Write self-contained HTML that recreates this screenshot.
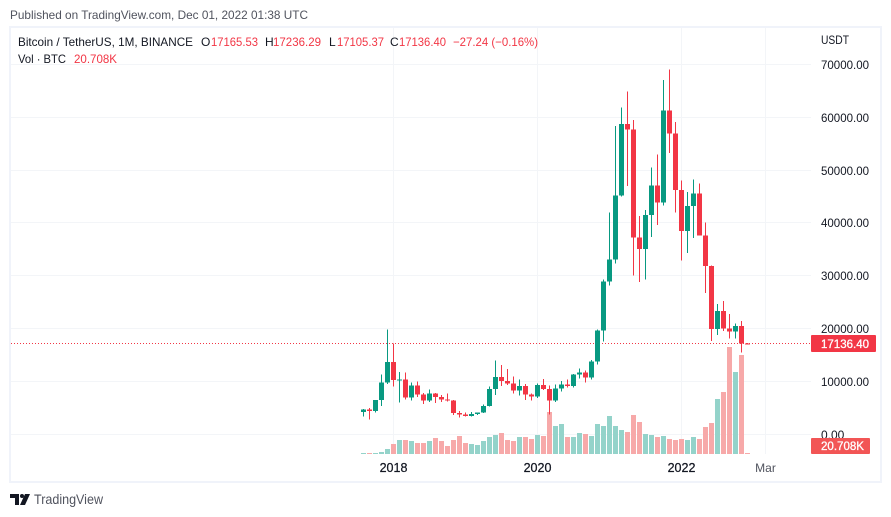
<!DOCTYPE html>
<html lang="en">
<head>
<meta charset="utf-8">
<title>Bitcoin / TetherUS chart</title>
<style>
html,body{margin:0;padding:0;background:#fff;width:891px;height:517px;overflow:hidden}
svg{display:block}
text{font-family:"Liberation Sans",sans-serif;font-size:12px;fill:#131722}
.red{fill:#f23645}
.muted{fill:#50535e}
</style>
</head>
<body>
<svg id="chart" xmlns="http://www.w3.org/2000/svg" width="891" height="517" viewBox="0 0 891 517">
  <text class="muted" x="10" y="19" textLength="298" lengthAdjust="spacingAndGlyphs">Published on TradingView.com, Dec 01, 2022 01:38 UTC</text>
  <rect x="10" y="27" width="871" height="455" fill="#fff" stroke="#f0f3fa" stroke-width="2"/>
  <g id="grid"></g>
  <g id="volumes"></g>
  <line id="lastLine" x1="11" x2="811" stroke="#f23645" stroke-width="1" stroke-dasharray="1 2"/>
  <g id="candles"></g>
  <g id="yAxis"></g>
  <g id="xAxis"></g>

  <g>
    <text x="18" y="46" textLength="175" lengthAdjust="spacingAndGlyphs">Bitcoin / TetherUS, 1M, BINANCE</text>
    <text x="201" y="46">O</text>
    <text class="red" x="211" y="46" textLength="47" lengthAdjust="spacingAndGlyphs">17165.53</text>
    <text x="265" y="46">H</text>
    <text class="red" x="273" y="46" textLength="48" lengthAdjust="spacingAndGlyphs">17236.29</text>
    <text x="329" y="46">L</text>
    <text class="red" x="337" y="46" textLength="47" lengthAdjust="spacingAndGlyphs">17105.37</text>
    <text x="390" y="46">C</text>
    <text class="red" x="399" y="46" textLength="47" lengthAdjust="spacingAndGlyphs">17136.40</text>
    <text class="red" x="453" y="46" textLength="85" lengthAdjust="spacingAndGlyphs">−27.24 (−0.16%)</text>
  </g>
  <g>
    <text x="18" y="63" textLength="48" lengthAdjust="spacingAndGlyphs">Vol · BTC</text>
    <text class="red" x="74" y="63" textLength="43" lengthAdjust="spacingAndGlyphs">20.708K</text>
  </g>
  <text x="821" y="44" textLength="28" lengthAdjust="spacingAndGlyphs">USDT</text>

  <rect x="811" y="335" width="65" height="17" rx="1" fill="#f23645"/>
  <text id="lastTag" x="821" y="348" textLength="48" lengthAdjust="spacingAndGlyphs" style="fill:#fff;stroke:#fff;stroke-width:0.3"></text>
  <rect x="811" y="438" width="59" height="16" rx="1" fill="#f25555"/>
  <text x="821" y="450" textLength="43" lengthAdjust="spacingAndGlyphs" style="fill:#fff;stroke:#fff;stroke-width:0.3">20.708K</text>

  <g>
    <path d="M10 494h9v11h-4v-7h-5zM25 494h5l-5 11h-5z" fill="#131722"/>
    <circle cx="22" cy="496" r="2" fill="#131722"/>
    <text class="muted" x="34" y="504" textLength="69" lengthAdjust="spacingAndGlyphs" style="font-size:14px">TradingView</text>
  </g>
</svg>

<script>
const categories = ["2017-08","2017-09","2017-10","2017-11","2017-12","2018-01","2018-02","2018-03","2018-04","2018-05","2018-06","2018-07","2018-08","2018-09","2018-10","2018-11","2018-12","2019-01","2019-02","2019-03","2019-04","2019-05","2019-06","2019-07","2019-08","2019-09","2019-10","2019-11","2019-12","2020-01","2020-02","2020-03","2020-04","2020-05","2020-06","2020-07","2020-08","2020-09","2020-10","2020-11","2020-12","2021-01","2021-02","2021-03","2021-04","2021-05","2021-06","2021-07","2021-08","2021-09","2021-10","2021-11","2021-12","2022-01","2022-02","2022-03","2022-04","2022-05","2022-06","2022-07","2022-08","2022-09","2022-10","2022-11","2022-12"];
const opens = [4261,4689,4378,6463,9838,13716,10285,10326,6923,9246,7485,6391,7727,7011,6626,6371,4017,3742,3457,3854,4105,5320,8555,10854,10080,9588,8289,9140,7541,7195,9352,8523,6410,8620,9448,9138,11335,11649,10776,13791,19608,28923,33092,45135,58740,57694,37253,35045,41461,47100,43824,61299,56950,46216,38466,43160,45510,37630,31801,19942,23293,20050,19431,20495,17165.53];
const highs = [4745,4939,6470,11300,19798,17176,11786,11710,9759,10020,7786,8491,7769,7410,7680,6500,4400,4140,4200,4121,5600,9074,13970,13147,12325,10905,10370,9530,7750,9578,10500,9188,9460,10067,10380,11444,12468,12050,14100,19863,29300,41950,58352,61844,64854,59500,41330,42448,50500,52920,67000,69000,59053,47990,45821,48190,47444,40023,31982,24668,25211,22799,20988,21480,17236.29];
const lows = [3400,2817,4110,5325,9500,9035,6000,6600,6430,7040,5750,6070,5880,6100,6200,3652,3156,3349,3370,3670,4050,5300,7440,9100,9320,7710,7300,6515,6435,6850,8410,3782,6150,8117,8833,8893,10518,9825,10374,13195,17572,28130,32296,44950,46930,30000,28805,29278,37332,39600,43283,53256,42000,32917,34322,37155,37578,26700,17622,18781,19520,18125,18130,15476,17105.37];
const closes = [4724,4378,6463,9838,13716,10285,10326,6923,9246,7485,6391,7727,7011,6626,6371,4017,3742,3457,3854,4105,5320,8555,10854,10080,9588,8289,9140,7541,7195,9352,8523,6410,8620,9448,9138,11335,11649,10776,13791,19608,28923,33092,45135,58740,57694,37253,35045,41461,47100,43824,61299,56950,46216,38466,43160,45510,37630,31801,19942,23293,20050,19431,20495,17165,17136.40];
const volumesK = [20,20,20,40,100,200,280,280,260,220,220,260,320,260,160,280,360,220,200,180,260,340,380,420,280,260,340,340,300,380,360,840,560,600,340,340,420,400,360,600,560,760,560,480,440,780,640,400,380,340,360,300,280,300,280,340,300,540,620,1100,1240,2140,1640,1980,20.708];
const priceTicks = [70000,60000,50000,40000,30000,20000,10000,0];
const timeTicks = ["2018-01","2020-01","2022-01","2023-03"];
const timeTickLabels = ["2018","2020","2022","Mar"];
const lastPrice = 17136.40;

const NS = "http://www.w3.org/2000/svg";
function xScale(i){ return 363.5 + 6 * i; }
function timeIndex(key){
  const p = key.split("-");
  return (Number(p[0]) - 2017) * 12 + Number(p[1]) - 8;
}
function yPrice(v){ return 434.3 - v * 370 / 70000; }
function yVolume(v){ return 454 - v * 0.05; }
function add(parent, tag, attrs){
  const el = document.createElementNS(NS, tag);
  for (const k in attrs) el.setAttribute(k, attrs[k]);
  parent.appendChild(el);
  return el;
}

const grid = document.getElementById("grid");
priceTicks.forEach(function(t){
  const el = add(grid, "rect", {x: 11, y: Math.floor(yPrice(t)), width: 800, height: 1, fill: "#f3f5f8"});
  
  
});
timeTicks.forEach(function(t){
  const el = add(grid, "rect", {x: Math.floor(xScale(timeIndex(t))), y: 28, width: 1, height: 426, fill: "#f3f5f8"});
  
  
});

const volG = document.getElementById("volumes");
volumesK.forEach(function(v, i){
  const up = closes[i] >= opens[i];
  const top = yVolume(v);
  const el = add(volG, "rect", {
    x: Math.floor(xScale(i)) - 2, y: top, width: 5, height: 454 - top,
    fill: up ? "#94d3ca" : "#f7a9a9", "shape-rendering": "crispEdges"
  });
  
  
});

const line = document.getElementById("lastLine");
line.setAttribute("y1", Math.floor(yPrice(lastPrice)) + 0.5);
line.setAttribute("y2", Math.floor(yPrice(lastPrice)) + 0.5);

const candleG = document.getElementById("candles");
categories.forEach(function(c, i){
  const up = closes[i] >= opens[i];
  const color = up ? "#089981" : "#f23645";
  const cx = Math.floor(xScale(i));
  const group = add(candleG, "g", {});
  
  
  const wick = add(group, "rect", {
    x: cx, y: yPrice(highs[i]), width: 1, height: Math.max(1, yPrice(lows[i]) - yPrice(highs[i])),
    fill: color, "shape-rendering": "crispEdges"
  });
  
  
  const bt = yPrice(Math.max(opens[i], closes[i]));
  const bb = yPrice(Math.min(opens[i], closes[i]));
  const body = add(group, "rect", {
    x: cx - 2, y: bt, width: 5, height: Math.max(1, bb - bt),
    fill: color, "shape-rendering": "crispEdges"
  });
  
  
});

const yAxis = document.getElementById("yAxis");
priceTicks.forEach(function(t){
  const el = add(yAxis, "text", {x: 821, y: Math.floor(yPrice(t)) + 5});
  
  
  el.textContent = t.toFixed(2);
  if (t > 0) {
    el.setAttribute("textLength", "48");
    el.setAttribute("lengthAdjust", "spacingAndGlyphs");
  }
});

const xAxis = document.getElementById("xAxis");
timeTicks.forEach(function(t, i){
  const label = timeTickLabels[i];
  const isYear = /^\d+$/.test(label);
  const el = add(xAxis, "text", {
    x: xScale(timeIndex(t)), y: 472, "text-anchor": "middle",
    style: isYear ? "font-size:12.5px;fill:#131722;stroke:#131722;stroke-width:0.25" : "font-size:12px;fill:#50535e"
  });
  
  
  el.textContent = label;
});

document.getElementById("lastTag").textContent = lastPrice.toFixed(2);
</script>
</body>
</html>
